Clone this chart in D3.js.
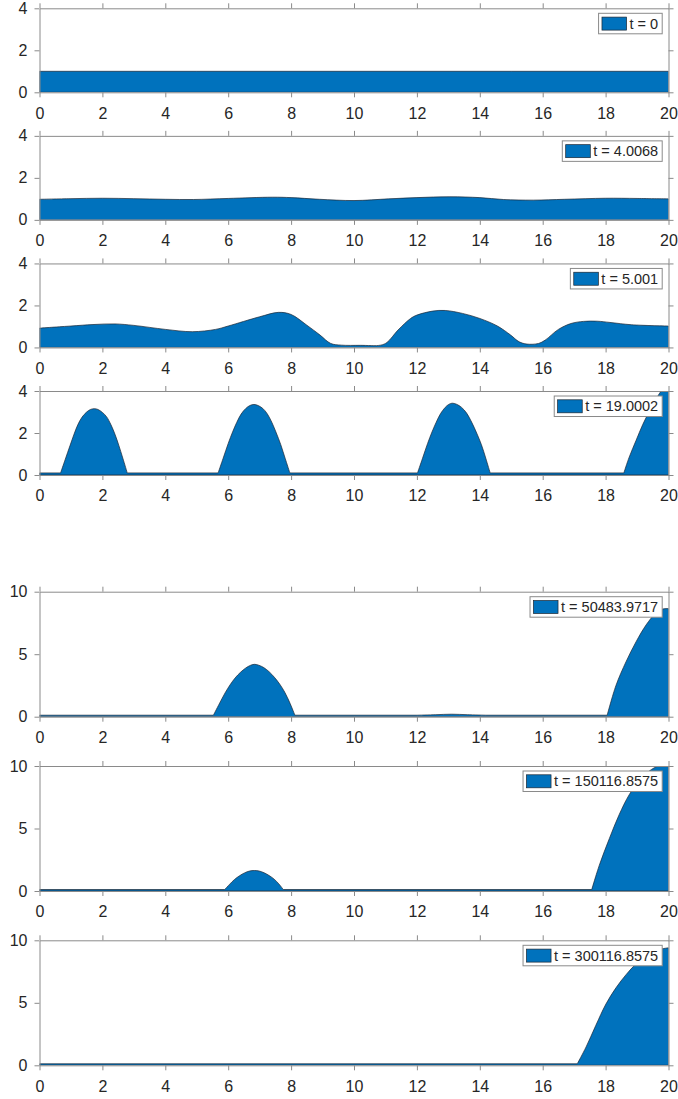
<!DOCTYPE html>
<html>
<head>
<meta charset="utf-8">
<script src="https://cdn.jsdelivr.net/npm/d3@7/dist/d3.min.js"></script>
<style>
  html, body { margin: 0; padding: 0; background: #fff; }
  svg { display: block; }
  text { font-family: "Liberation Sans", Arial, Helvetica, sans-serif; fill: #262626; }
</style>
</head>
<body>
<svg id="chart" width="678" height="1099"></svg>
<script>
// Height profiles u(x) at successive times, as [x, u] samples on 0..20
const profileT0 = [[0, 1.0], [5, 1.0], [10, 1.0], [15, 1.0], [20, 1.0]];

const profileT4 = [
  [0, 0.98], [1, 1.01], [2, 1.03], [3, 1.01], [4, 0.98], [4.9, 0.97], [6, 1.02],
  [7.4, 1.08], [8, 1.06], [8.9, 0.98], [10, 0.92], [11.1, 1.0], [12, 1.06],
  [13.05, 1.1], [14, 1.06], [14.75, 0.97], [15.7, 0.94], [16.7, 0.98],
  [18, 1.03], [19, 1.02], [20, 1.0]
];

const profileT5 = [
  [0, 0.92], [1, 1.02], [1.7, 1.09], [2.4, 1.12], [3, 1.05], [4, 0.86], [4.86, 0.75],
  [5.6, 0.86], [6, 1.02], [7, 1.46], [7.6, 1.67], [8, 1.57], [8.5, 1.06],
  [8.92, 0.59], [9.26, 0.19], [9.6, 0.11], [10.2, 0.1], [10.85, 0.11], [11.05, 0.24],
  [11.4, 0.83], [11.8, 1.38], [12, 1.54], [12.5, 1.73], [12.9, 1.76], [13.45, 1.62],
  [14, 1.38], [14.56, 1.02], [14.98, 0.59], [15.25, 0.27], [15.5, 0.16],
  [15.87, 0.19], [16.08, 0.35], [16.5, 0.86], [16.9, 1.14], [17.3, 1.24],
  [17.73, 1.25], [18.14, 1.19], [18.83, 1.08], [20, 1.02]
];

const profileT19 = [
  [0, 0.1], [0.67, 0.1], [0.82, 0.75], [0.97, 1.4], [1.1, 1.95], [1.22, 2.4],
  [1.35, 2.75], [1.5, 3.0], [1.62, 3.12], [1.74, 3.16], [1.86, 3.12], [2.0, 2.98],
  [2.13, 2.78], [2.27, 2.4], [2.4, 1.94], [2.52, 1.42], [2.65, 0.8], [2.79, 0.1],
  [5.68, 0.1], [5.84, 0.8], [6.0, 1.5], [6.14, 2.05], [6.27, 2.5], [6.41, 2.9],
  [6.56, 3.17], [6.69, 3.31], [6.82, 3.36], [6.95, 3.31], [7.1, 3.17], [7.24, 2.92],
  [7.39, 2.5], [7.53, 2.0], [7.67, 1.45], [7.81, 0.8], [7.96, 0.1],
  [12.02, 0.1], [12.18, 0.8], [12.34, 1.5], [12.48, 2.05], [12.61, 2.5],
  [12.75, 2.92], [12.9, 3.22], [13.01, 3.36], [13.12, 3.42], [13.26, 3.37],
  [13.42, 3.22], [13.58, 2.95], [13.74, 2.52], [13.9, 2.0], [14.05, 1.45],
  [14.19, 0.8], [14.33, 0.1],
  [18.58, 0.1], [18.75, 0.85], [18.97, 1.65], [19.18, 2.4], [19.38, 3.0],
  [19.55, 3.45], [19.72, 3.9], [19.86, 4.15], [20, 4.35]
];

const profileT50483 = [
  [0, 0.12], [5.53, 0.12], [5.71, 1.0], [5.9, 1.9], [6.06, 2.55], [6.22, 3.1],
  [6.39, 3.55], [6.56, 3.9], [6.7, 4.1], [6.83, 4.19], [6.97, 4.12], [7.13, 3.93],
  [7.3, 3.6], [7.47, 3.15], [7.64, 2.6], [7.8, 1.95], [7.97, 1.05], [8.12, 0.12],
  [12.0, 0.12], [12.6, 0.16], [13.1, 0.2], [13.6, 0.16], [14.2, 0.12],
  [18.05, 0.12], [18.33, 2.5], [18.65, 4.4], [18.97, 6.0], [19.29, 7.35],
  [19.6, 8.3], [19.8, 8.6], [20, 8.65]
];

const profileT150116 = [
  [0, 0.12], [5.89, 0.12], [6.05, 0.55], [6.2, 0.92], [6.36, 1.22], [6.52, 1.45],
  [6.68, 1.6], [6.83, 1.64], [6.98, 1.6], [7.14, 1.46], [7.3, 1.24], [7.46, 0.95],
  [7.61, 0.57], [7.75, 0.12],
  [17.56, 0.12], [17.8, 2.06], [18.12, 4.2], [18.43, 6.1], [18.75, 7.7],
  [19.07, 8.8], [19.39, 9.6], [19.7, 10.05], [20, 10.3]
];

const profileT300116 = [
  [0, 0.12], [17.1, 0.12], [17.38, 1.47], [17.69, 3.2], [18.01, 4.9],
  [18.33, 6.2], [18.65, 7.25], [18.96, 8.1], [19.28, 8.75], [19.6, 9.2], [20, 9.4]
];

const profiles = [profileT0, profileT4, profileT5, profileT19,
                  profileT50483, profileT150116, profileT300116];
const legendLabels = ["t = 0", "t = 4.0068", "t = 5.001", "t = 19.0002",
                      "t = 50483.9717", "t = 150116.8575", "t = 300116.8575"];
const yMax = [4, 4, 4, 4, 10, 10, 10];
const yTickSets = [[0, 2, 4], [0, 2, 4], [0, 2, 4], [0, 2, 4], [0, 5, 10], [0, 5, 10], [0, 5, 10]];
const xTicks = [0, 2, 4, 6, 8, 10, 12, 14, 16, 18, 20];

// Layout of the stacked axes
const axLeft = 39.5, axRight = 668.5;
const panelTop = i => i < 4 ? 8.3 + i * 127.57 : 591.7 + (i - 4) * 174.3;
const panelHeight = i => i < 4 ? 84 : 125;

const FILL = "#0072BD";
const EDGE = "#1c2733";
const AXIS = "#8a8a8a";
const TICK_FONT = 16;
const LEGEND_FONT = 14.5;

// Split a profile into flat runs and smooth humps, so that the humps meet
// the flat floor at a sharp corner.
function splitPieces(data) {
  const pieces = [];
  let cur = [data[0]];
  let curFlat = data.length > 1 && data[1][1] === data[0][1];
  for (let k = 1; k < data.length; k++) {
    const segFlat = data[k][1] === data[k - 1][1];
    if (segFlat !== curFlat) {
      pieces.push({ pts: cur, flat: curFlat });
      cur = [data[k - 1]];
      curFlat = segFlat;
    }
    cur.push(data[k]);
  }
  pieces.push({ pts: cur, flat: curFlat });
  return pieces;
}

const svg = d3.select("#chart");
const x = d3.scaleLinear().domain([0, 20]).range([axLeft, axRight]);

profiles.forEach((data, i) => {
  const top = panelTop(i), h = panelHeight(i), bottom = top + h;
  const y = d3.scaleLinear().domain([0, yMax[i]]).range([bottom, top]);
  const g = svg.append("g");

  const clipId = "clip" + i;
  svg.append("clipPath").attr("id", clipId)
    .append("rect").attr("x", axLeft).attr("y", top)
    .attr("width", axRight - axLeft).attr("height", h);

  // One closed outline: top edge built piece by piece, then down to the floor
  const pieces = splitPieces(data);
  const topEdge = pieces.map((p, k) => {
    const curve = p.flat ? d3.curveLinear : d3.curveCatmullRom.alpha(0.5);
    const s = d3.line().x(d => x(d[0])).y(d => y(d[1])).curve(curve)(p.pts);
    return k ? s.replace(/^M/, "L") : s;
  }).join("");
  const first = data[0], last = data[data.length - 1];
  const outline = topEdge +
    `L${x(last[0])},${y(0)}L${x(first[0])},${y(0)}Z`;

  g.append("g").attr("clip-path", `url(#${clipId})`)
    .append("path").attr("d", outline)
    .attr("fill", FILL).attr("stroke", EDGE).attr("stroke-width", 0.7)
    .attr("stroke-linejoin", "round");

  // Axes: outward ticks on all four sides, labels only bottom/left
  const styleAxis = sel => {
    sel.selectAll(".domain").attr("stroke", AXIS).attr("stroke-width", 1).attr("fill", "none");
    sel.selectAll(".tick line").attr("stroke", AXIS).attr("stroke-width", 1);
    sel.selectAll("text").attr("fill", "#262626")
      .style("font-family", '"Liberation Sans", Arial, Helvetica, sans-serif')
      .style("font-size", TICK_FONT + "px");
  };

  g.append("g").attr("transform", `translate(0,${bottom})`)
    .call(d3.axisBottom(x).tickValues(xTicks).tickSize(5).tickSizeOuter(0).tickPadding(10).tickFormat(d3.format("d")))
    .call(styleAxis);
  g.append("g").attr("transform", `translate(0,${top})`)
    .call(d3.axisTop(x).tickValues(xTicks).tickSize(5).tickSizeOuter(0).tickFormat(""))
    .call(styleAxis);
  g.append("g").attr("transform", `translate(${axLeft},0)`)
    .call(d3.axisLeft(y).tickValues(yTickSets[i]).tickSize(5).tickSizeOuter(0).tickPadding(7).tickFormat(d3.format("d")))
    .call(styleAxis);
  g.append("g").attr("transform", `translate(${axRight},0)`)
    .call(d3.axisRight(y).tickValues(yTickSets[i]).tickSize(5).tickSizeOuter(0).tickFormat(""))
    .call(styleAxis);

  // Legend box in the upper right corner
  const lg = g.append("g");
  const txt = lg.append("text").text(legendLabels[i])
    .style("font-size", LEGEND_FONT + "px").attr("x", 0).attr("y", 0);
  const tw = txt.node().getComputedTextLength();
  const boxW = 3.4 + 24.6 + 3 + tw + 4;
  const boxH = 20.5;
  const boxRight = axRight - 6.3;
  const boxLeft = boxRight - boxW;
  const boxTop = top + 5;
  lg.insert("rect", "text")
    .attr("x", boxLeft).attr("y", boxTop).attr("width", boxW).attr("height", boxH)
    .attr("fill", "#fff").attr("stroke", AXIS).attr("stroke-width", 1);
  lg.insert("rect", "text")
    .attr("x", boxLeft + 3.4).attr("y", boxTop + 3.8).attr("width", 24.6).attr("height", 13)
    .attr("fill", FILL).attr("stroke", EDGE).attr("stroke-width", 0.7);
  txt.attr("x", boxLeft + 3.4 + 24.6 + 3).attr("y", boxTop + boxH / 2 + 5.2);
});
</script>
</body>
</html>
